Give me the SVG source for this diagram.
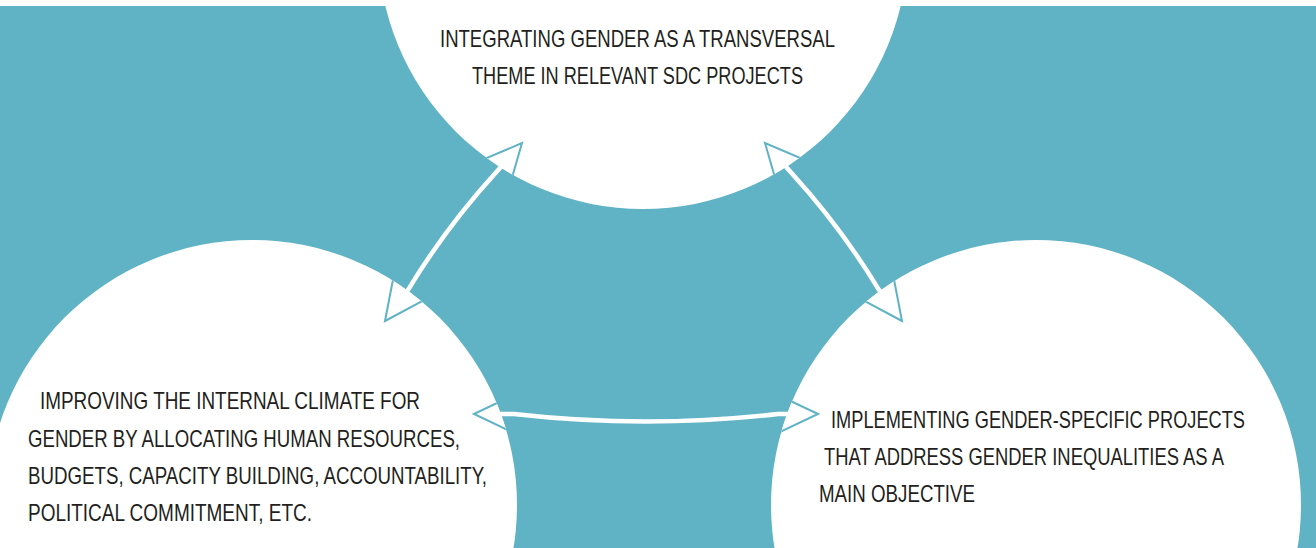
<svg xmlns="http://www.w3.org/2000/svg" width="1316" height="548" viewBox="0 0 1316 548">
  <style>
    .bg { fill: #5fb3c5; }
    .node { fill: #ffffff; }
    .label { font-family: "Liberation Sans", Arial, sans-serif; font-size: 24px; fill: #231f20; }
    .shaft { fill: none; stroke: #ffffff; stroke-width: 4.5; stroke-linejoin: round; }
    .head { fill: #ffffff; stroke: #5fb3c5; stroke-width: 2; stroke-linejoin: miter; }
  </style>
  <defs>
    <clipPath id="inCircles">
      <circle cx="643" cy="-56" r="265"/>
      <circle cx="252" cy="505" r="265"/>
      <circle cx="1036" cy="505" r="265"/>
    </clipPath>
  </defs>

  <rect x="0" y="0" width="1316" height="548" fill="#ffffff"/>
  <rect class="bg" x="0" y="6" width="1316" height="542"/>

  <g id="node-top">
    <circle class="node" cx="643" cy="-56" r="265"/>
    <text class="label" x="440" y="47" textLength="395" lengthAdjust="spacingAndGlyphs">INTEGRATING GENDER AS A TRANSVERSAL</text>
    <text class="label" x="472" y="84" textLength="331" lengthAdjust="spacingAndGlyphs">THEME IN RELEVANT SDC PROJECTS</text>
  </g>

  <g id="node-left">
    <circle class="node" cx="252" cy="505" r="265"/>
    <text class="label" x="40" y="409" textLength="380" lengthAdjust="spacingAndGlyphs">IMPROVING THE INTERNAL CLIMATE FOR</text>
    <text class="label" x="28" y="447" textLength="432" lengthAdjust="spacingAndGlyphs">GENDER BY ALLOCATING HUMAN RESOURCES,</text>
    <text class="label" x="28" y="484" textLength="459" lengthAdjust="spacingAndGlyphs">BUDGETS, CAPACITY BUILDING, ACCOUNTABILITY,</text>
    <text class="label" x="28" y="521" textLength="284" lengthAdjust="spacingAndGlyphs">POLITICAL COMMITMENT, ETC.</text>
  </g>

  <g id="node-right">
    <circle class="node" cx="1036" cy="505" r="265"/>
    <text class="label" x="831" y="428" textLength="414" lengthAdjust="spacingAndGlyphs">IMPLEMENTING GENDER-SPECIFIC PROJECTS</text>
    <text class="label" x="824" y="465" textLength="400" lengthAdjust="spacingAndGlyphs">THAT ADDRESS GENDER INEQUALITIES AS A</text>
    <text class="label" x="819" y="502" textLength="156" lengthAdjust="spacingAndGlyphs">MAIN OBJECTIVE</text>
  </g>

  <g id="connectors">
    <path class="shaft" d="M508.8,158 L495.5,173 Q446.5,226.7 408.7,288.8 L396.9,304.9"/>
    <path class="shaft" d="M778.2,158 L791.5,173 Q840.5,226.7 878.3,288.8 L890.1,304.9"/>
    <path class="shaft" d="M494,414 L514,414 Q646,429 778,414 L798,414"/>
    <g clip-path="url(#inCircles)">
      <polygon class="head" points="522,143 509.7,185.6 481.3,160.4"/>
      <polygon class="head" points="385,321 424,300.1 393.4,277.5"/>
      <polygon class="head" points="765,143 777.3,185.6 805.7,160.4"/>
      <polygon class="head" points="902,321 863,300.1 893.6,277.5"/>
      <polygon class="head" points="474,414 514,395 514,433"/>
      <polygon class="head" points="818,414 778,395 778,433"/>
    </g>
  </g>
</svg>
